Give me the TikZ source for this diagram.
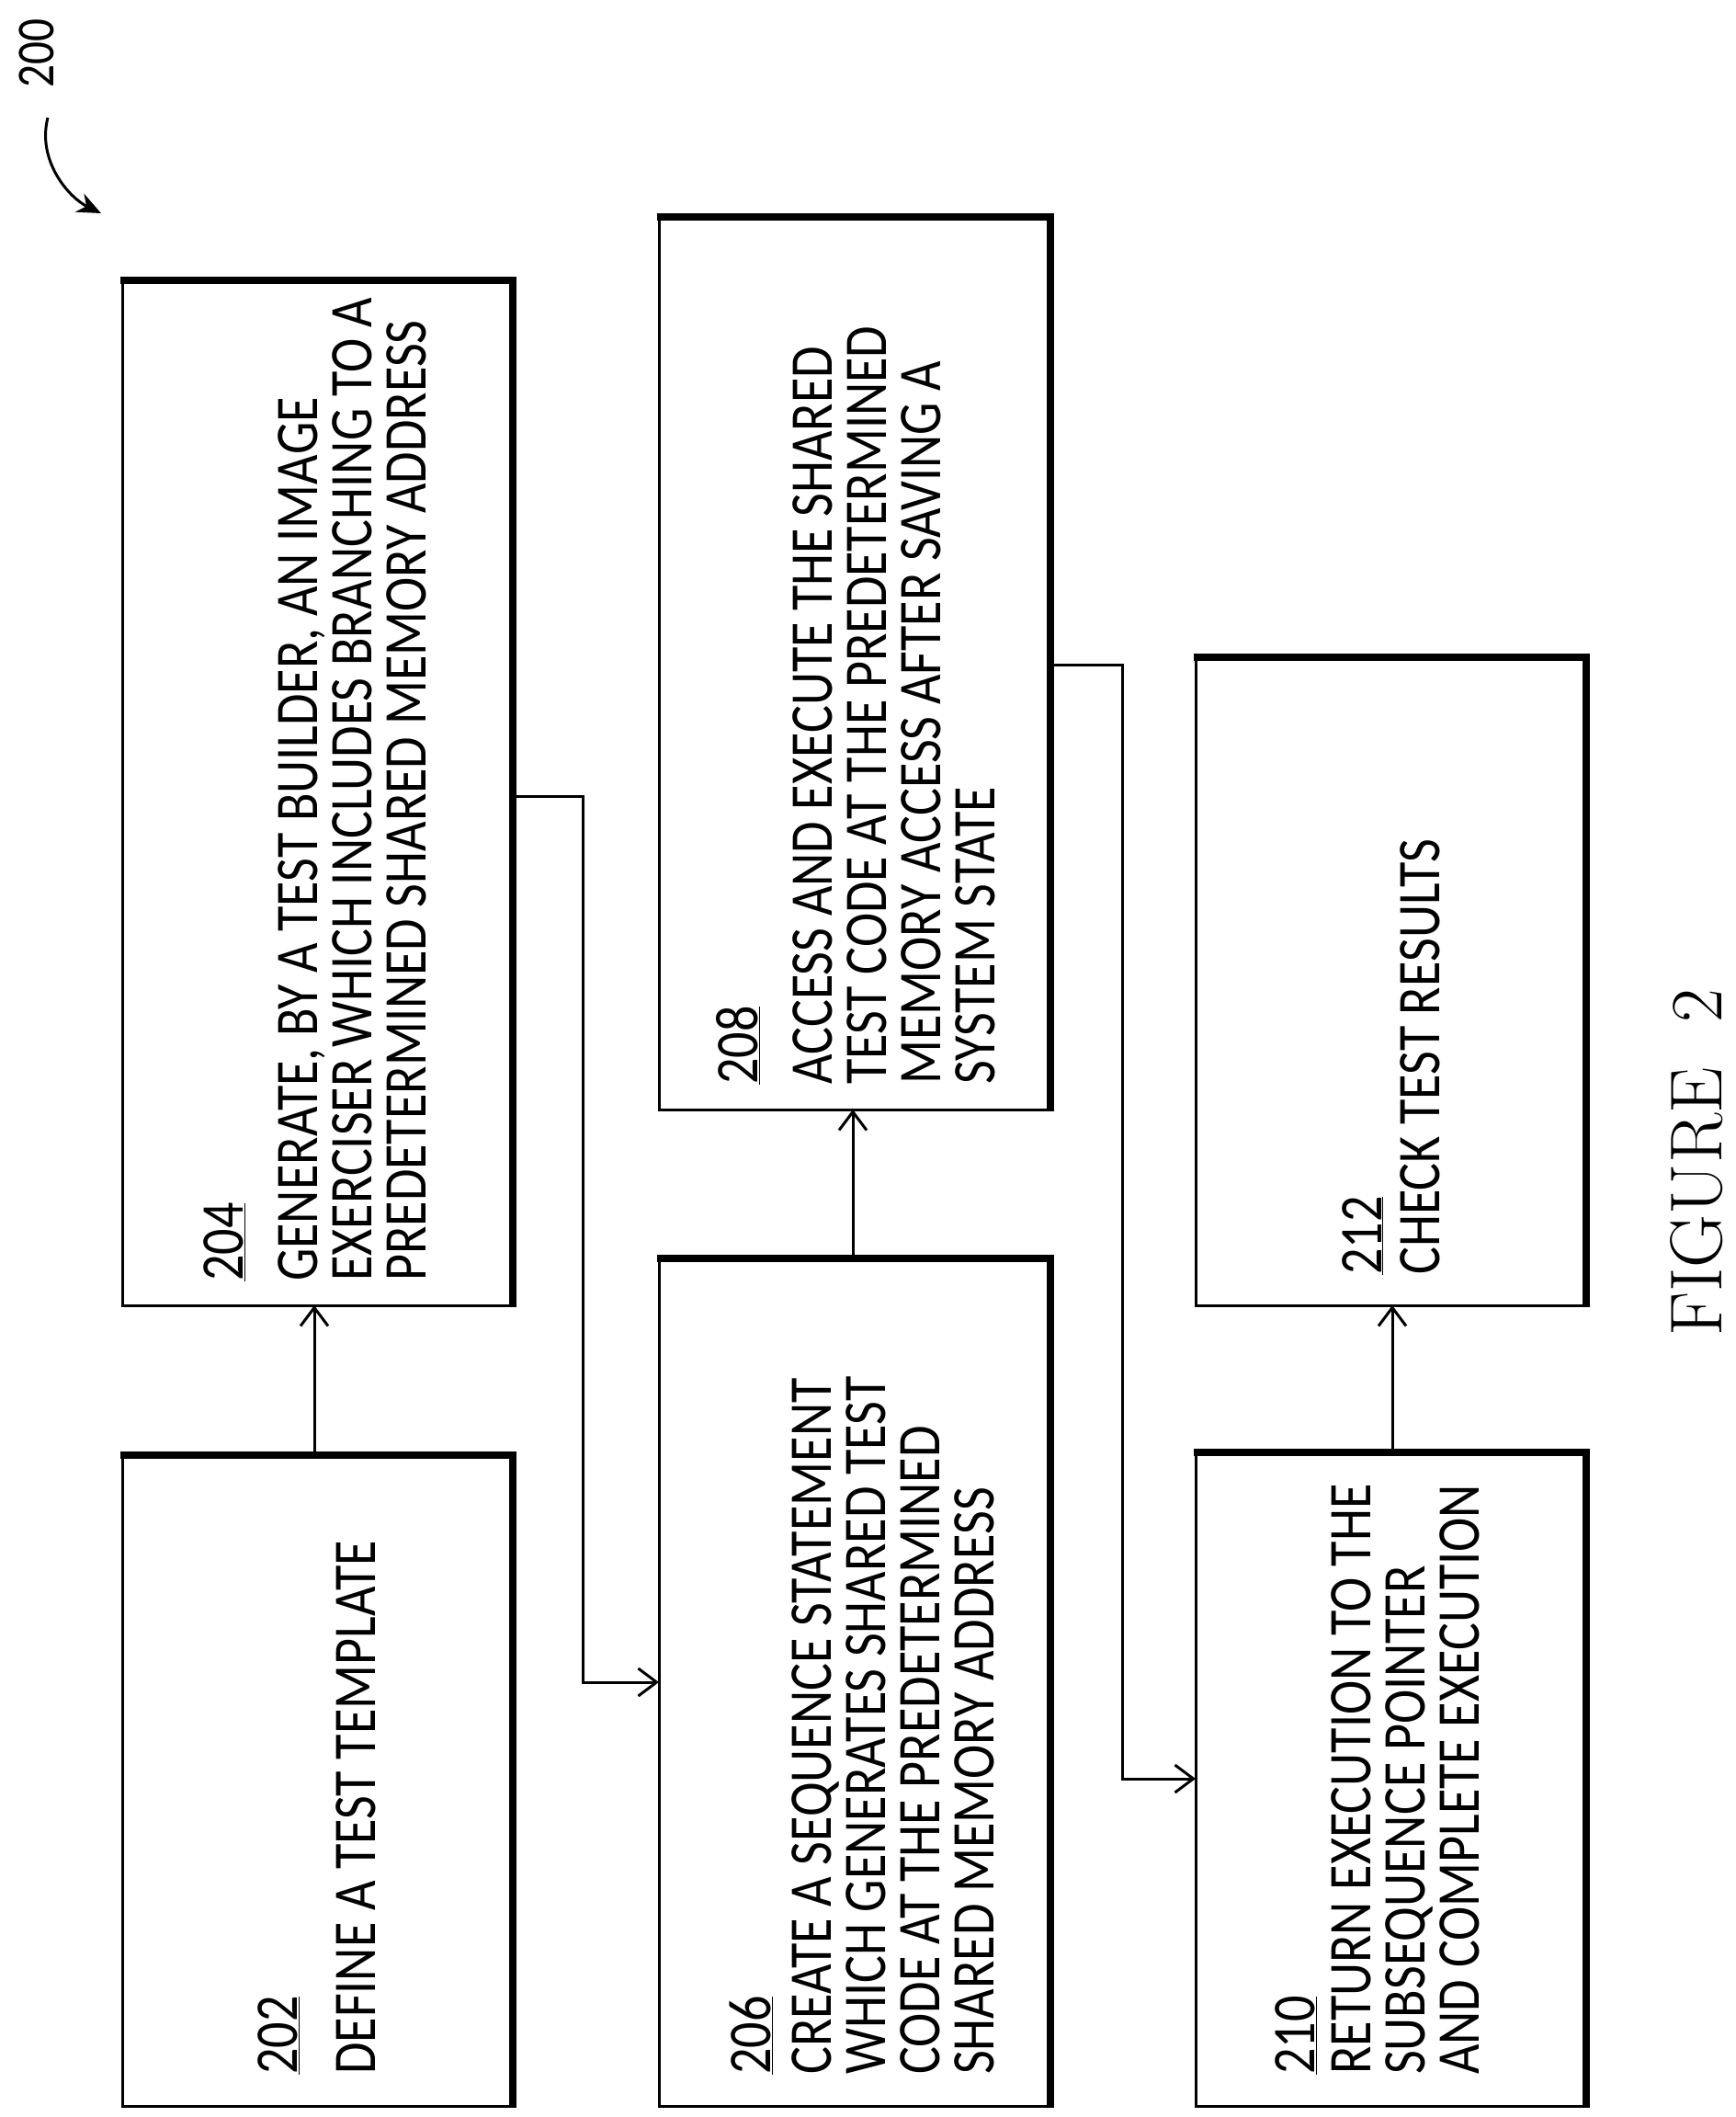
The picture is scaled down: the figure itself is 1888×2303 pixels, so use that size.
\documentclass[tikz,border=0pt]{standalone}
\usepackage{fontspec}
\setmainfont{Carlito}[FakeStretch=0.85]
\newfontfamily\lmfont{Latin Modern Roman}
\usetikzlibrary{arrows.meta}
\begin{document}
\begin{tikzpicture}[x=1pt,y=-1pt,
  box/.style={draw,line width=3pt},
  lbl/.style={rotate=90,anchor=north west,inner sep=0pt,align=left,font=\fontsize{66}{59}\selectfont},
  arr/.style={line width=3pt,-{Straight Barb[length=20pt,width=30pt,line width=3pt]}}]
\useasboundingbox (0,0) rectangle (1888,2303);
\newcommand\mybox[5]{%
  \draw[line width=3pt] (#1,#2) rectangle (#3,#4);
  \draw[line width=8pt] (#1-2,#2) -- (#3,#2) -- (#3,#4+2);
  \path (#1,#2) rectangle (#3,#4) coordinate[pos=0] (#5);}
\mybox{133}{1583}{558}{2291}{b202}
\mybox{133}{305}{558}{1420}{b204}
\mybox{717}{1369}{1143}{2291}{b206}
\mybox{717}{236}{1143}{1207}{b208}
\mybox{1301}{1580}{1726}{2291}{b210}
\mybox{1301}{715}{1726}{1420}{b212}
\node[lbl] (t202) at (280,2257) {\underline{202}\\[26pt]DEFINE A TEST TEMPLATE};
\node[lbl] (t204) at (221,1394) {\underline{204}\\[22pt]GENERATE, BY A TEST BUILDER, AN IMAGE\\EXERCISER WHICH INCLUDES BRANCHING TO A\\PREDETERMINED SHARED MEMORY ADDRESS};
\node[lbl] (t206) at (794,2257) {\underline{206}\\[7pt]CREATE A SEQUENCE STATEMENT\\WHICH GENERATES SHARED TEST\\CODE AT THE PREDETERMINED\\SHARED MEMORY ADDRESS};
\node[lbl] (t208) at (779,1180) {\underline{208}\\[22pt]ACCESS AND EXECUTE THE SHARED\\TEST CODE AT THE PREDETERMINED\\MEMORY ACCESS AFTER SAVING A\\SYSTEM STATE};
\node[lbl] (t210) at (1387,2257) {\underline{210}\\[2pt]RETURN EXECUTION TO THE\\SUBSEQUENCE POINTER\\AND COMPLETE EXECUTION};
\node[lbl] (t212) at (1460,1387) {\underline{212}\\[4pt]CHECK TEST RESULTS};
\coordinate (a1s) at (342,1583); \coordinate (a1e) at (342,1420);
\draw[arr] (a1s) -- (a1e);
\coordinate (a2s) at (558,866); \coordinate (a2e) at (717,1830);
\draw[arr] (a2s) -- (634,866) -- (634,1830) -- (a2e);
\coordinate (a3s) at (928,1369); \coordinate (a3e) at (928,1207);
\draw[arr] (a3s) -- (a3e);
\coordinate (a4s) at (1143,723); \coordinate (a4e) at (1301,1935);
\draw[arr] (a4s) -- (1221,723) -- (1221,1935) -- (a4e);
\coordinate (a5s) at (1515,1580); \coordinate (a5e) at (1515,1420);
\draw[arr] (a5s) -- (a5e);
\node[rotate=90,inner sep=0pt,font=\fontsize{58}{60}\selectfont] (n200) at (40,58) {200};
\coordinate (c1) at (52,128); \coordinate (c2) at (110,232);
\draw[line width=3pt,-{Stealth[length=26pt,width=22pt]}] (c1) .. controls (40,175) and (75,215) .. (c2);
\node[rotate=90,inner sep=0pt,font=\lmfont\fontsize{80}{90}\selectfont] (fig) at (1846,1265) {FIGURE\ \ 2};
\end{tikzpicture}
\end{document}
